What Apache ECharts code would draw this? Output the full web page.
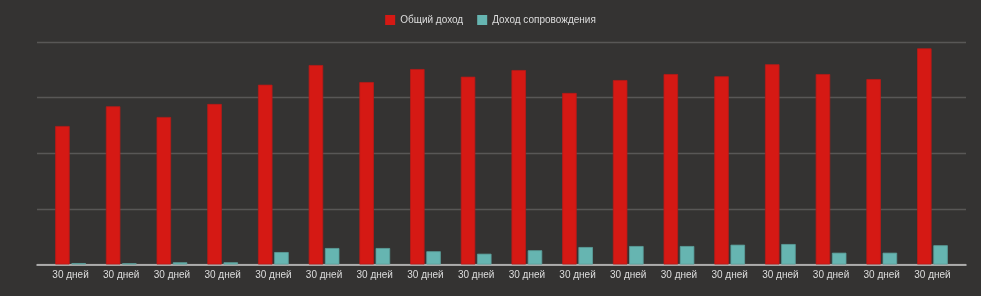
<!DOCTYPE html>
<html>
<head>
<meta charset="utf-8">
<script src="https://cdn.jsdelivr.net/npm/echarts@6/dist/echarts.min.js"></script>
<style>
  html, body { margin: 0; padding: 0; background: #343332; }
  #chart { width: 981px; height: 296px; }
</style>
</head>
<body>
<div id="chart"></div>
<script>
// данные графика
var categories = ['30 дней', '30 дней', '30 дней', '30 дней', '30 дней', '30 дней',
  '30 дней', '30 дней', '30 дней', '30 дней', '30 дней', '30 дней',
  '30 дней', '30 дней', '30 дней', '30 дней', '30 дней', '30 дней'];
var totalIncome = [124.5, 142.2, 132.6, 144.3, 161.6, 179.3, 164.0, 175.7, 168.8,
  174.8, 154.2, 165.8, 171.2, 169.2, 180.0, 171.2, 166.7, 194.3];
var escortIncome = [1.3, 1.1, 2.0, 2.0, 11.2, 14.8, 14.8, 11.9, 9.7,
  12.8, 15.7, 16.6, 16.6, 17.8, 18.4, 10.6, 10.6, 17.3];
var seriesNames = ['Общий доход', 'Доход сопровождения'];
var yMax = 200;
var yStep = 50;

var chart = echarts.init(document.getElementById('chart'));
chart.setOption({
  backgroundColor: '#343332',
  animation: false,
  textStyle: { fontFamily: 'Liberation Sans' },
  legend: {
    data: seriesNames,
    top: 10,
    left: 'center',
    itemWidth: 10,
    itemHeight: 10,
    itemGap: 14,
    icon: 'rect',
    itemStyle: { borderWidth: 0 },
    textStyle: { color: '#dddddd', fontSize: 10 }
  },
  // grid 0 - фон (линии), grid 1 - столбцы
  grid: [
    { left: 37, right: 15, top: 42, bottom: 31.5 },
    { left: 45.2, right: 23.2, top: 42, bottom: 31.5 }
  ],
  xAxis: [
    {
      gridIndex: 0,
      type: 'category',
      data: categories,
      axisLine: { lineStyle: { color: '#c8c8c8', width: 1.5 } },
      axisTick: { show: false },
      axisLabel: { show: false }
    },
    {
      gridIndex: 1,
      type: 'category',
      data: categories,
      axisLine: { show: false },
      axisTick: { show: false },
      axisLabel: { color: '#dddddd', fontSize: 10, margin: 6, interval: 0 }
    }
  ],
  yAxis: [
    {
      gridIndex: 0,
      type: 'value',
      min: 0,
      max: yMax,
      interval: yStep,
      axisLine: { show: false },
      axisTick: { show: false },
      axisLabel: { show: false },
      splitLine: { lineStyle: { color: '#585756', width: 1.3 } }
    },
    {
      gridIndex: 1,
      type: 'value',
      min: 0,
      max: yMax,
      interval: yStep,
      show: false
    }
  ],
  series: [
    {
      name: seriesNames[0],
      type: 'bar',
      xAxisIndex: 1,
      yAxisIndex: 1,
      data: totalIncome,
      barWidth: 14.5,
      barGap: '12%',
      itemStyle: { color: '#d51914', borderColor: '#b81a18', borderWidth: 0.8 }
    },
    {
      name: seriesNames[1],
      type: 'bar',
      xAxisIndex: 1,
      yAxisIndex: 1,
      data: escortIncome,
      barWidth: 14.5,
      itemStyle: { color: '#66b5b1', borderColor: '#5a9e9a', borderWidth: 0.8 }
    }
  ]
});
</script>
</body>
</html>
